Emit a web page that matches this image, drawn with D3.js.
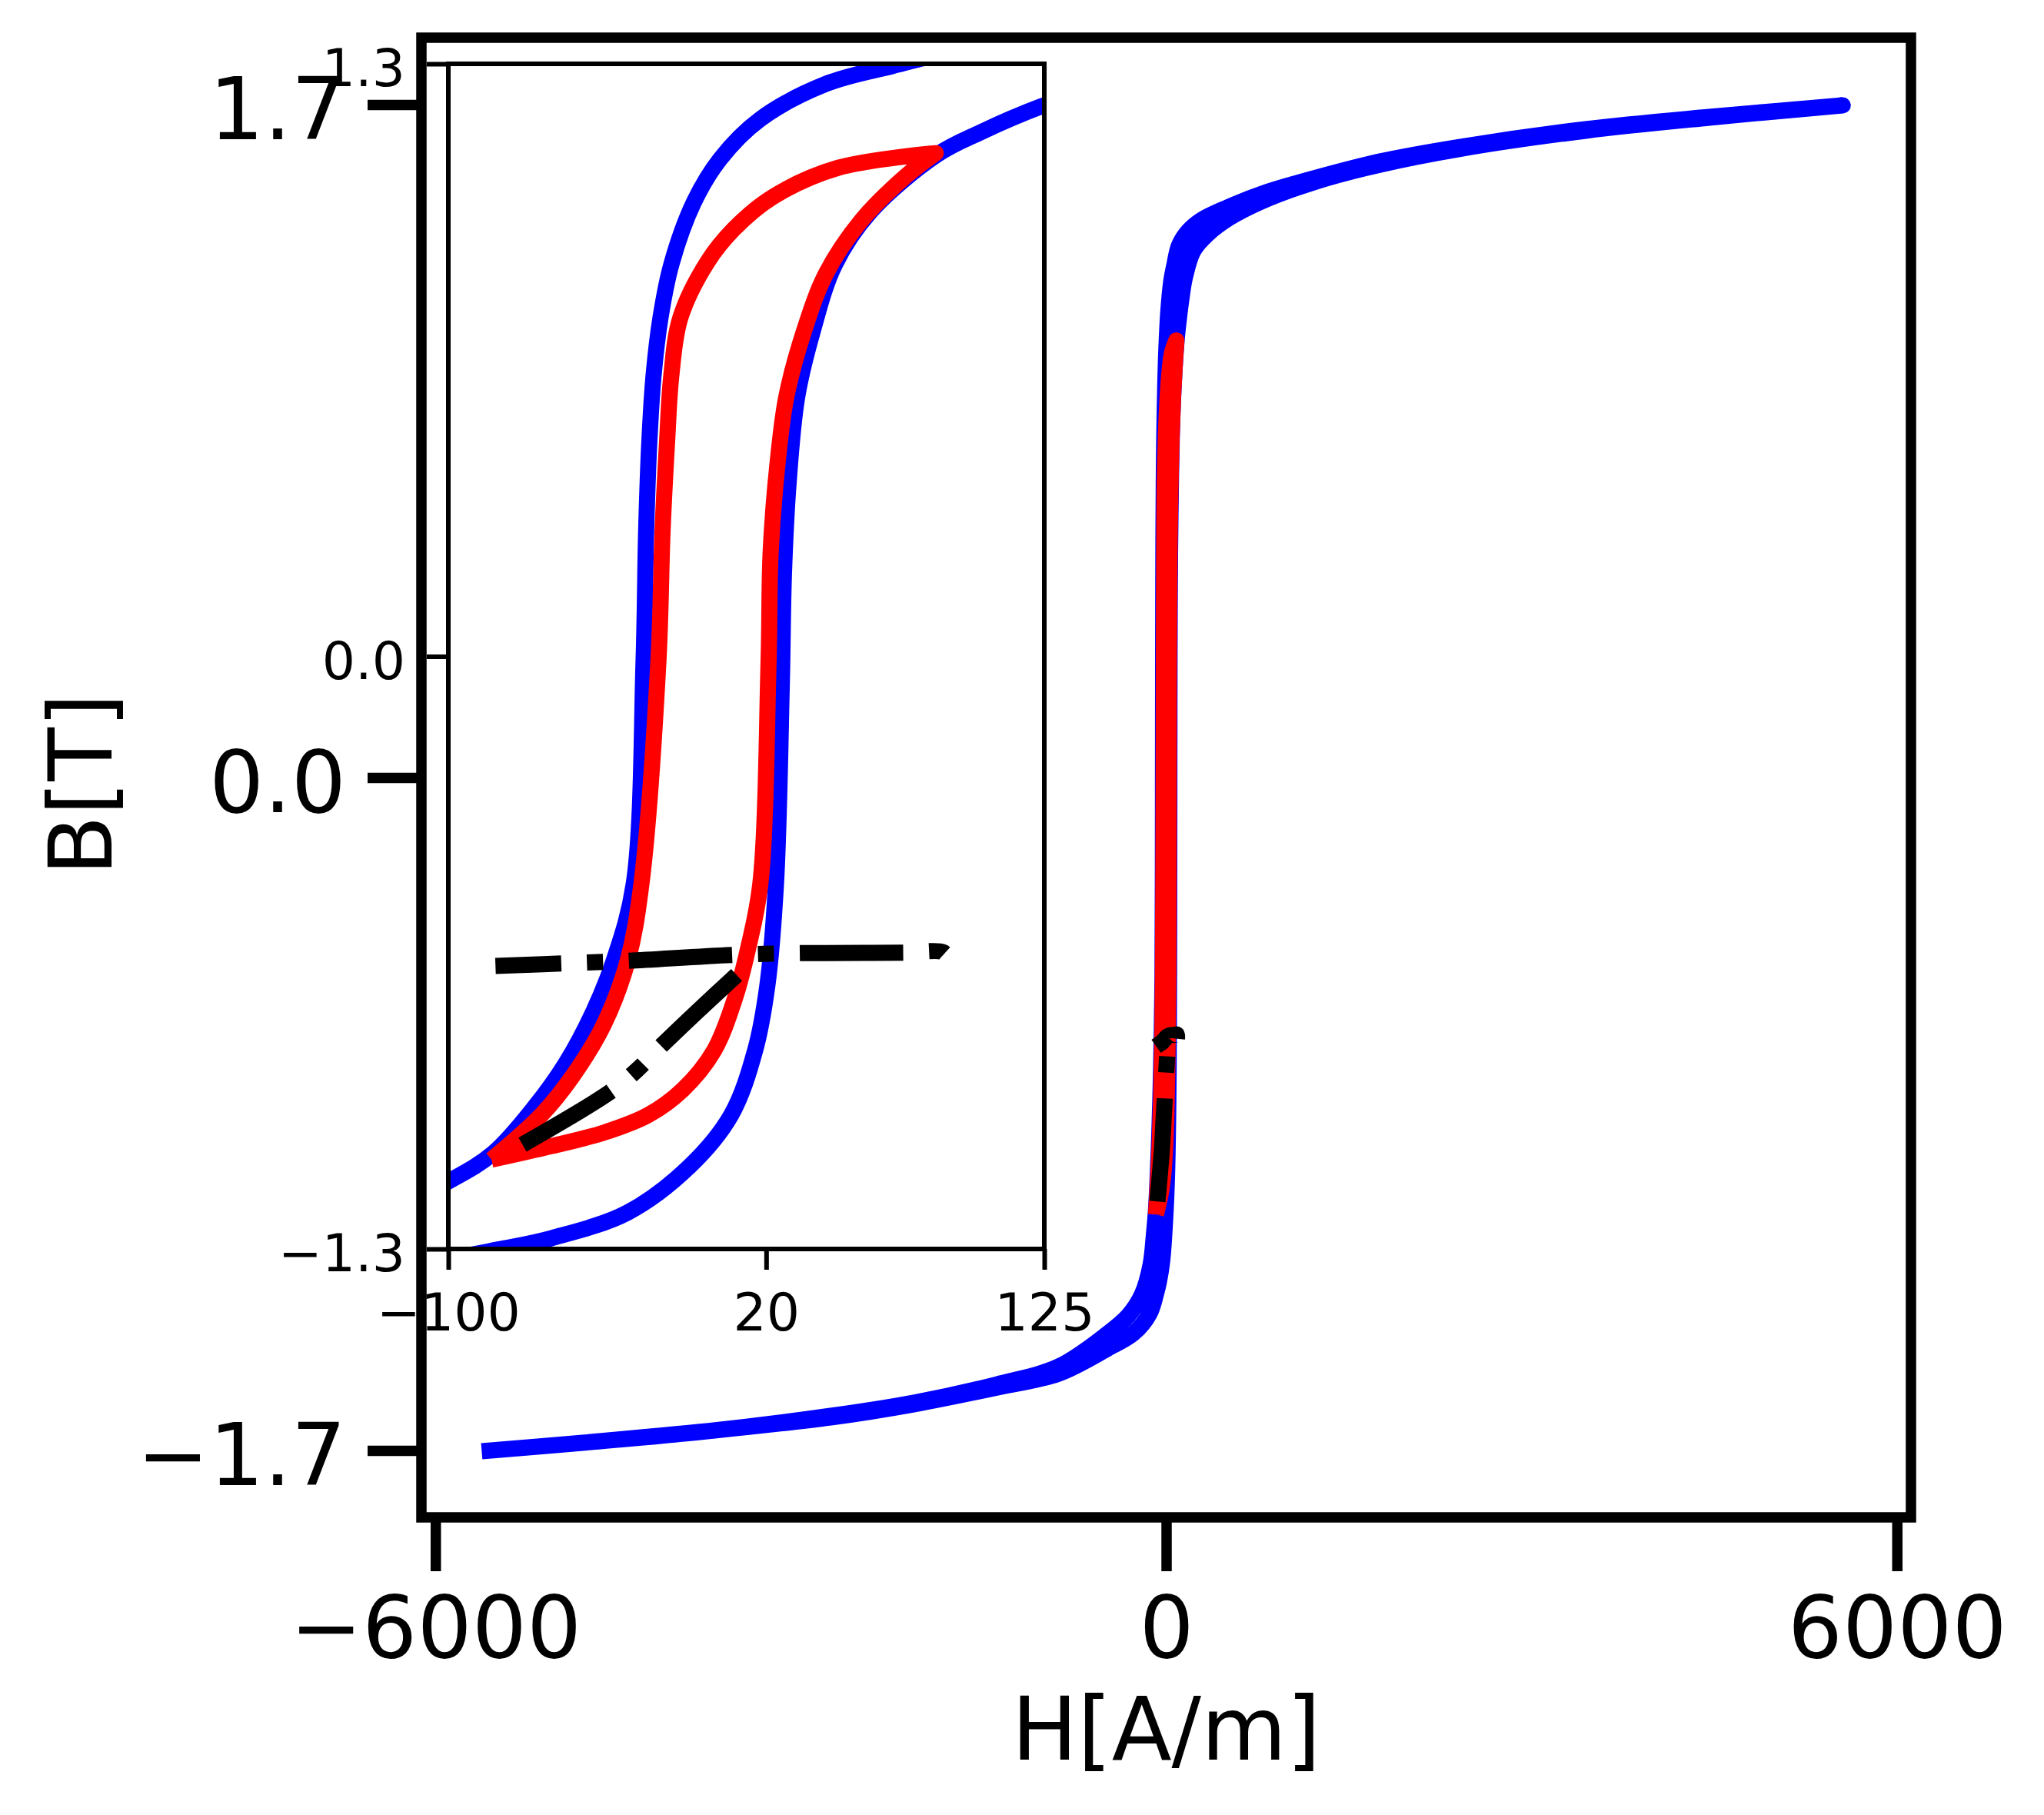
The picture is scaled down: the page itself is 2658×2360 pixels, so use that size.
<!DOCTYPE html>
<html>
<head>
<meta charset="utf-8">
<script src="https://cdn.jsdelivr.net/npm/d3@7"></script>
<style>
	body { margin: 0; background: #fff; }
	svg { display: block; }
</style>
</head>
<body>
<div id="loop-chart"></div>
<script>

// ------------------------ data ------------------------------

// major loop, ascending branch (H in A/m, B in T)
var blueAscH = [-5620, -4772, -3757, -2743, -2068, -1390, -883, -483, -268, -136, -79.2, -60.9, -32.3, -8.8, 6.8, 15.8, 20.4, 23.7, 25.9, 26.7, 28.4, 31.7, 37.6, 45.9, 59.3, 84.3, 101, 124, 155, 224, 338, 515, 780, 1203, 1752, 2430, 3444, 4459, 5555];
var blueAscB = [-1.702, -1.680, -1.651, -1.616, -1.583, -1.541, -1.506, -1.443, -1.404, -1.354, -1.299, -1.276, -1.220, -1.118, -1.006, -0.865, -0.724, -0.499, -0.060, 0.180, 0.375, 0.569, 0.714, 0.859, 0.975, 1.100, 1.150, 1.207, 1.265, 1.331, 1.372, 1.413, 1.455, 1.503, 1.548, 1.589, 1.634, 1.667, 1.698];

// major loop, descending branch
var blueDescH = [5555, 4459, 3444, 2430, 1752, 1077, 818, 502, 287, 180, 104, 67.5, 42.6, 17.6, 2.6, -7.4, -15.8, -19.9, -22.5, -24.1, -25.3, -26.3, -30, -37.6, -45.4, -55.7, -67.5, -83.1, -100, -129, -199, -313, -490, -883, -1390, -2068, -2743, -3757, -4772, -5620];
var blueDescB = [1.698, 1.669, 1.638, 1.594, 1.556, 1.502, 1.478, 1.440, 1.408, 1.380, 1.343, 1.295, 1.256, 1.178, 1.091, 0.995, 0.860, 0.743, 0.617, 0.472, 0.278, -0.012, -0.499, -0.668, -0.781, -0.893, -0.989, -1.090, -1.152, -1.232, -1.306, -1.360, -1.407, -1.488, -1.533, -1.579, -1.612, -1.651, -1.680, -1.702];

// minor loop
var redAscH = [-83.7, -60.9, -41.4, -24.5, -11.4, 0.3, 8.1, 13.2, 17.8, 20.9, 21.7, 24.3, 27.6, 34.3, 42.6, 55.9, 72.6, 84];
var redAscB = [-1.104, -1.074, -1.045, -1.006, -0.950, -0.865, -0.752, -0.640, -0.499, -0.012, 0.230, 0.424, 0.569, 0.714, 0.840, 0.956, 1.053, 1.104];
var redDescH = [84, 47.2, 22.5, 7.7, -2.2, -12.4, -15.8, -17.4, -19.1, -20.7, -27.1, -32.3, -41.4, -53.1, -64.9, -83.7];
var redDescB = [1.104, 1.072, 1.008, 0.937, 0.865, 0.743, 0.617, 0.472, 0.278, -0.012, -0.499, -0.668, -0.809, -0.921, -1.006, -1.104];

// dash-dot paths
var blackFlatH = [-82.2, -50, -32.3, 6.8, 32.2, 71.6, 86.8, 88.5];
var blackFlatB = [-0.679, -0.672, -0.668, -0.655, -0.651, -0.650, -0.649, -0.660];
var blackDiagH = [-72, -38.8, -28.7, -20.6, -6.2, 9.4];
var blackDiagB = [-1.071, -0.955, -0.907, -0.860, -0.780, -0.696];

// ticks
var mainHTicks = [-6000, 0, 6000];
var mainBTicks = [-1.7, 0, 1.7];
var insetHTicks = [-100, 20, 125];
var insetBTicks = [-1.3, 0, 1.3];
var xLabel = "H[A/m]";
var yLabel = "B[T]";


// ------------------------ chart ------------------------------

var build_loopChart = function() {

	var svgWidth = 2658, svgHeight = 2360;
	var lw = 21;
	var dashDot = [6.4 * lw, 1.6 * lw, 1 * lw, 1.6 * lw].join(",");
	var font = "DejaVu Sans";

	// main frame and inset frame (pixels)
	var main = { left: 548, right: 2485, top: 49, bottom: 1973 };
	var inset = { left: 583, right: 1358, top: 83, bottom: 1624 };

	// set the ranges
	var x_main = d3.scaleLinear().domain([-6115, 6115]).range([main.left, main.right]);
	var y_main = d3.scaleLinear().domain([-1.869, 1.869]).range([main.bottom, main.top]);
	var x_in = d3.scaleLinear().domain([-100, 125]).range([inset.left, inset.right]);
	var y_in = d3.scaleLinear().domain([-1.3, 1.3]).range([inset.bottom, inset.top]);

	var zip = function(hs, bs) { return hs.map(function(h, i) { return [h, bs[i]]; }); };

	var svg = d3.select("#loop-chart").append("svg")
			.attr("width", svgWidth)
			.attr("height", svgHeight)
			.attr("viewBox", "0 0 " + svgWidth + " " + svgHeight);

	svg.append("rect").attr("width", svgWidth).attr("height", svgHeight).attr("fill", "#fff");

	var defs = svg.append("defs");
	defs.append("clipPath").attr("id", "clip-main").append("rect")
		.attr("x", main.left).attr("y", main.top)
		.attr("width", main.right - main.left).attr("height", main.bottom - main.top);
	defs.append("clipPath").attr("id", "clip-inset").append("rect")
		.attr("x", inset.left).attr("y", inset.top)
		.attr("width", inset.right - inset.left).attr("height", inset.bottom - inset.top);

	var lineGen = function(x, y) {
		return d3.line().x(function(d) { return x(d[0]); }).y(function(d) { return y(d[1]); })
					.curve(d3.curveCatmullRom.alpha(0.5));
	};
	// one continuous loop: first branch, then second branch joined at the tip
	var loopPath = function(x, y, up, down) {
		var line = lineGen(x, y);
		var a = line(up), b = line(down);
		return a + b.slice(b.search(/[CL]/));
	};
	var openPath = function(x, y, pts) { return lineGen(x, y)(pts); };

	var drawCurves = function(g, x, y) {
		g.append("path")
			.attr("d", loopPath(x, y, zip(blueAscH, blueAscB), zip(blueDescH, blueDescB)))
			.attr("fill", "none").attr("stroke", "#0000ff").attr("stroke-width", lw)
			.attr("stroke-linejoin", "round").attr("stroke-linecap", "butt");
		g.append("path")
			.attr("d", loopPath(x, y, zip(redAscH, redAscB), zip(redDescH, redDescB)))
			.attr("fill", "none").attr("stroke", "#ff0000").attr("stroke-width", lw)
			.attr("stroke-linejoin", "round").attr("stroke-linecap", "butt");
		g.append("path")
			.attr("d", openPath(x, y, zip(blackFlatH, blackFlatB)))
			.attr("fill", "none").attr("stroke", "#000").attr("stroke-width", lw)
			.attr("stroke-dasharray", dashDot).attr("stroke-dashoffset", 49);
		g.append("path")
			.attr("d", openPath(x, y, zip(blackDiagH, blackDiagB)))
			.attr("fill", "none").attr("stroke", "#000").attr("stroke-width", lw)
			.attr("stroke-dasharray", dashDot);
	};

	// ---- main axes ----
	drawCurves(svg.append("g").attr("clip-path", "url(#clip-main)"), x_main, y_main);

	var axisX_main = svg.append("g")
			.attr("transform", "translate(0," + main.bottom + ")")
			.call(d3.axisBottom(x_main).tickValues(mainHTicks).tickSize(70).tickPadding(32).tickFormat(d3.format("d")));
	var axisY_main = svg.append("g")
			.attr("transform", "translate(" + main.left + ",0)")
			.call(d3.axisLeft(y_main).tickValues(mainBTicks).tickSize(70).tickPadding(28).tickFormat(d3.format(".1f")));
	[axisX_main, axisY_main].forEach(function(ax) {
		ax.select(".domain").remove();
		ax.attr("font-size", 112).attr("font-family", font);
		ax.selectAll(".tick line").attr("stroke", "#000").attr("stroke-width", 13.5);
		ax.selectAll(".tick text").attr("fill", "#000");
	});
	axisY_main.selectAll(".tick text").attr("dy", "0.40em");

	svg.append("rect")
		.attr("x", main.left).attr("y", main.top)
		.attr("width", main.right - main.left).attr("height", main.bottom - main.top)
		.attr("fill", "none").attr("stroke", "#000").attr("stroke-width", 13.5);

	svg.append("text")
		.attr("x", (main.left + main.right) / 2).attr("y", 2288)
		.attr("text-anchor", "middle").attr("font-family", font).attr("font-size", 114)
		.text(xLabel);
	svg.append("text")
		.attr("transform", "translate(145,1020) rotate(-90)")
		.attr("text-anchor", "middle").attr("font-family", font).attr("font-size", 114)
		.text(yLabel);

	// ---- inset axes ----
	svg.append("rect")
		.attr("x", inset.left).attr("y", inset.top)
		.attr("width", inset.right - inset.left).attr("height", inset.bottom - inset.top)
		.attr("fill", "#fff");

	drawCurves(svg.append("g").attr("clip-path", "url(#clip-inset)"), x_in, y_in);

	var axisX_in = svg.append("g")
			.attr("transform", "translate(0," + inset.bottom + ")")
			.call(d3.axisBottom(x_in).tickValues(insetHTicks).tickSize(27).tickPadding(31).tickFormat(d3.format("d")));
	var axisY_in = svg.append("g")
			.attr("transform", "translate(" + inset.left + ",0)")
			.call(d3.axisLeft(y_in).tickValues(insetBTicks).tickSize(28).tickPadding(28).tickFormat(d3.format(".1f")));
	[axisX_in, axisY_in].forEach(function(ax) {
		ax.select(".domain").remove();
		ax.attr("font-size", 68).attr("font-family", font);
		ax.selectAll(".tick line").attr("stroke", "#000").attr("stroke-width", 6);
		ax.selectAll(".tick text").attr("fill", "#000");
	});
	axisY_in.selectAll(".tick text").attr("dy", "0.42em");

	svg.append("rect")
		.attr("x", inset.left).attr("y", inset.top)
		.attr("width", inset.right - inset.left).attr("height", inset.bottom - inset.top)
		.attr("fill", "none").attr("stroke", "#000").attr("stroke-width", 6);

}

build_loopChart();

</script>
</body>
</html>
